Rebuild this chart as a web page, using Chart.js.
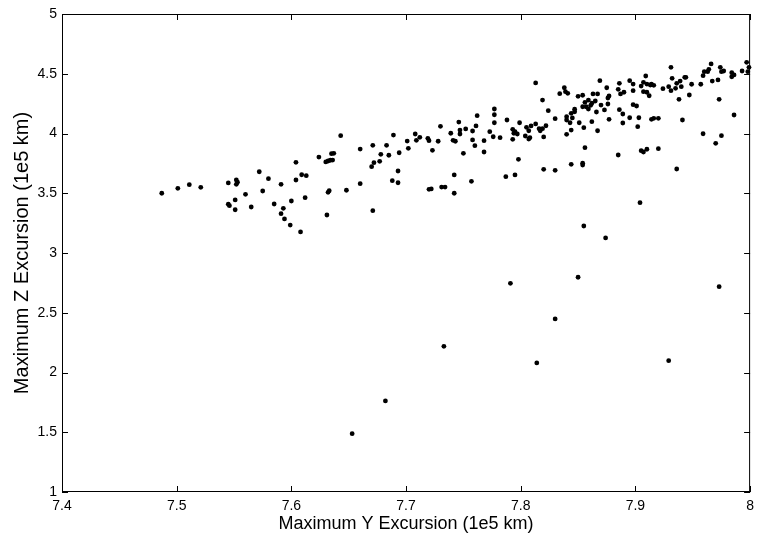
<!DOCTYPE html>
<html lang="en">
<head>
<meta charset="UTF-8">
<title>Maximum Y vs Z Excursion</title>
<script src="https://cdn.jsdelivr.net/npm/chart.js@4"></script>
<style>
  html, body { margin: 0; padding: 0; background: #fff; }
  #wrap { position: relative; width: 760px; height: 537px; }
</style>
</head>
<body>
<div id="wrap"><canvas id="excursionChart"></canvas></div>
<script>
// values, units of 1e5 km
const yExcursion = [
  7.487, 7.501, 7.511, 7.521, 7.545, 7.552, 7.553, 7.552, 7.572, 7.580,
  7.591, 7.604, 7.604, 7.560, 7.575, 7.551, 7.545, 7.546, 7.551, 7.565,
  7.585, 7.600, 7.593, 7.591, 7.594, 7.599,
  7.643, 7.624, 7.635, 7.637, 7.630, 7.632, 7.634, 7.636, 7.609, 7.613,
  7.612, 7.632, 7.633, 7.648, 7.631, 7.608, 7.660, 7.671, 7.683, 7.689,
  7.678, 7.685, 7.677, 7.672, 7.670, 7.660, 7.688, 7.671,
  7.694, 7.693, 7.693, 7.701, 7.702, 7.708, 7.709, 7.712, 7.719, 7.720,
  7.723, 7.728, 7.730, 7.739, 7.741, 7.743, 7.746, 7.747, 7.747, 7.752,
  7.758, 7.758, 7.760, 7.761, 7.762, 7.750, 7.768, 7.773, 7.768, 7.777,
  7.777, 7.777, 7.776, 7.742, 7.757, 7.720, 7.722, 7.731, 7.734, 7.742,
  7.813, 7.819, 7.824, 7.830, 7.834, 7.838, 7.839, 7.841, 7.850, 7.854,
  7.863, 7.856, 7.859, 7.854, 7.857, 7.859, 7.861, 7.862, 7.847, 7.847,
  7.844, 7.840, 7.840, 7.845, 7.843, 7.851, 7.862, 7.855, 7.844, 7.840,
  7.788, 7.799, 7.782, 7.793, 7.794, 7.795, 7.797, 7.793, 7.805, 7.807,
  7.809, 7.813, 7.816, 7.817, 7.819, 7.822, 7.804, 7.807, 7.808, 7.820,
  7.856, 7.798, 7.787, 7.795, 7.820, 7.830, 7.844, 7.854, 7.854, 7.855,
  7.931, 7.932, 7.909, 7.869, 7.886, 7.895, 7.898, 7.907, 7.910, 7.913,
  7.914, 7.916, 7.905, 7.867, 7.875, 7.885, 7.887, 7.890, 7.898, 7.907,
  7.910, 7.912, 7.924, 7.929, 7.931, 7.877, 7.876, 7.865, 7.870, 7.876,
  7.873, 7.866, 7.886, 7.889, 7.898, 7.901, 7.895, 7.903, 7.902, 7.877,
  7.889, 7.914, 7.916, 7.920, 7.867, 7.885, 7.905, 7.907, 7.910, 7.920,
  7.904, 7.874,
  7.936, 7.939, 7.940, 7.935, 7.943, 7.944, 7.949, 7.957, 7.959, 7.960,
  7.963, 7.964, 7.966, 7.967, 7.972, 7.974, 7.975, 7.977, 7.984, 7.984,
  7.986, 7.993, 7.997, 7.999, 7.998, 7.938, 7.947, 7.973, 7.941, 7.986,
  7.959, 7.970, 7.975, 7.936,
  7.791, 7.850, 7.973, 7.830, 7.733, 7.814, 7.929, 7.682, 7.653
];
const zExcursion = [
  3.500, 3.541, 3.572, 3.550, 3.586, 3.611, 3.592, 3.575, 3.680, 3.622,
  3.575, 3.759, 3.611, 3.491, 3.519, 3.444, 3.408, 3.396, 3.362, 3.385,
  3.410, 3.435, 3.374, 3.329, 3.285, 3.234,
  3.982, 3.803, 3.831, 3.834, 3.762, 3.770, 3.776, 3.778, 3.655, 3.647,
  3.463, 3.508, 3.521, 3.525, 3.318, 3.176, 3.870, 3.901, 3.901, 3.987,
  3.826, 3.818, 3.767, 3.756, 3.722, 3.580, 3.605, 3.354,
  3.839, 3.686, 3.588, 3.937, 3.876, 3.996, 3.943, 3.968, 3.960, 3.940,
  3.859, 3.935, 4.060, 4.002, 3.943, 3.935, 4.096, 4.029, 3.996, 4.038,
  4.021, 3.946, 3.898, 4.063, 4.149, 3.834, 3.940, 4.015, 3.845, 4.157,
  4.205, 4.090, 3.973, 3.653, 3.600, 3.533, 3.536, 3.552, 3.552, 3.500,
  4.423, 4.280, 4.191, 4.124, 4.333, 4.383, 4.350, 4.336, 4.311, 4.320,
  4.331, 4.261, 4.280, 4.224, 4.224, 4.205, 4.236, 4.253, 4.203, 4.182,
  4.169, 4.141, 4.113, 4.130, 4.090, 4.090, 4.099, 4.049, 4.029, 3.993,
  4.113, 4.090, 3.965, 4.035, 4.002, 4.015, 3.996, 3.951, 4.052, 4.023,
  4.063, 4.080, 4.040, 4.023, 4.040, 4.065, 3.979, 3.954, 3.965, 3.971,
  3.881, 3.784, 3.639, 3.653, 3.700, 3.692, 3.742, 3.736, 3.751, 3.226,
  4.554, 4.462, 4.481, 4.442, 4.420, 4.442, 4.414, 4.428, 4.414, 4.406,
  4.412, 4.403, 4.397, 4.331, 4.383, 4.370, 4.331, 4.345, 4.358, 4.350,
  4.345, 4.316, 4.375, 4.392, 4.358, 4.314, 4.297, 4.272, 4.238, 4.247,
  4.197, 4.180, 4.199, 4.163, 4.241, 4.230, 4.132, 4.132, 4.057, 4.119,
  4.088, 4.119, 4.127, 4.127, 4.023, 3.820, 3.856, 3.845, 3.868, 3.873,
  3.421, 3.126,
  4.420, 4.439, 4.392, 4.378, 4.470, 4.470, 4.412, 4.412, 4.484, 4.517,
  4.517, 4.537, 4.582, 4.439, 4.448, 4.554, 4.517, 4.523, 4.509, 4.475,
  4.490, 4.523, 4.596, 4.554, 4.517, 4.286, 4.322, 4.286, 4.113, 4.155,
  3.998, 3.918, 3.982, 3.703,
  2.746, 2.797, 2.718, 2.448, 2.219, 2.080, 2.099, 1.762, 1.488
];

const xTickValues = [7.4, 7.5, 7.6, 7.7, 7.8, 7.9, 8];
const xTickLabels = ['7.4', '7.5', '7.6', '7.7', '7.8', '7.9', '8'];
const yTickValues = [1, 1.5, 2, 2.5, 3, 3.5, 4, 4.5, 5];
const yTickLabels = ['1', '1.5', '2', '2.5', '3', '3.5', '4', '4.5', '5'];

const points = yExcursion.map((v, i) => ({ x: v, y: zExcursion[i] }));

const fontFamily = "'Liberation Sans', Arial, sans-serif";

// matlab style box with ticks pointing inwards on all four sides
const boxTicks = {
  id: 'boxTicks',
  afterDraw(chart) {
    const { ctx, chartArea: a, scales } = chart;
    const len = 6;
    ctx.save();
    ctx.strokeStyle = '#000';
    ctx.lineWidth = 1;
    ctx.strokeRect(a.left + 0.5, a.top + 0.5, a.right - a.left - 1, a.bottom - a.top - 1);
    ctx.beginPath();
    xTickValues.forEach(v => {
      const px = Math.round(scales.x.getPixelForValue(v)) + 0.5;
      ctx.moveTo(px, a.bottom); ctx.lineTo(px, a.bottom - len);
      ctx.moveTo(px, a.top); ctx.lineTo(px, a.top + len);
    });
    yTickValues.forEach(v => {
      const py = Math.round(scales.y.getPixelForValue(v)) + 0.5;
      ctx.moveTo(a.left, py); ctx.lineTo(a.left + len, py);
      ctx.moveTo(a.right, py); ctx.lineTo(a.right - len, py);
    });
    ctx.stroke();
    ctx.restore();
  }
};

new Chart(document.getElementById('excursionChart'), {
  type: 'scatter',
  data: {
    datasets: [{
      data: points,
      backgroundColor: '#000',
      borderColor: '#000',
      pointRadius: 2.4,
      pointBorderWidth: 0,
      clip: false
    }]
  },
  options: {
    responsive: true,
    maintainAspectRatio: false,
    animation: false,
    layout: { padding: { top: 14, right: 2, left: 0, bottom: 0 } },
    plugins: { legend: { display: false }, tooltip: { enabled: false } },
    scales: {
      x: {
        type: 'linear',
        min: 7.4,
        max: 8,
        afterBuildTicks: s => { s.ticks = xTickValues.map(v => ({ value: v })); },
        afterFit: s => { s.height = 45; },
        grid: { display: false, drawTicks: false },
        border: { display: false },
        ticks: {
          autoSkip: false,
          maxRotation: 0,
          padding: 6,
          color: '#000',
          font: { family: fontFamily, size: 14 },
          callback: (v, i) => xTickLabels[i]
        },
        title: {
          display: true,
          text: 'Maximum Y Excursion (1e5 km)',
          color: '#000',
          font: { family: fontFamily, size: 18 },
          padding: { top: 0, bottom: 2 }
        }
      },
      y: {
        type: 'linear',
        min: 1,
        max: 5,
        afterBuildTicks: s => { s.ticks = yTickValues.map(v => ({ value: v })); },
        afterFit: s => { s.width = 62; },
        grid: { display: false, drawTicks: false },
        border: { display: false },
        ticks: {
          autoSkip: false,
          padding: 5,
          color: '#000',
          font: { family: fontFamily, size: 14 },
          callback: (v, i) => yTickLabels[i]
        },
        title: {
          display: true,
          text: 'Maximum Z Excursion (1e5 km)',
          color: '#000',
          font: { family: fontFamily, size: 20 },
          padding: { top: 10, bottom: 0 }
        }
      }
    }
  },
  plugins: [boxTicks]
});
</script>
</body>
</html>
